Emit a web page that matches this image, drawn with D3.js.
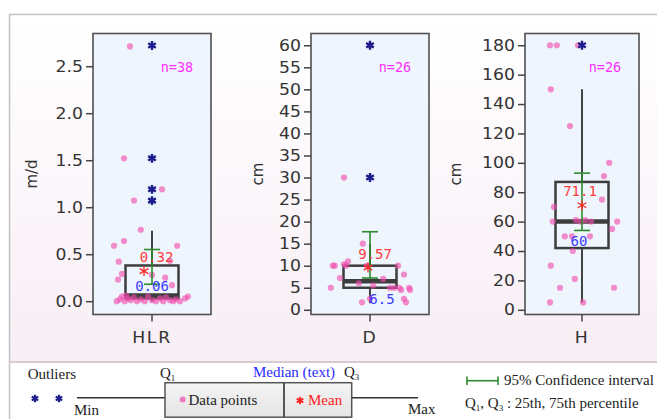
<!DOCTYPE html>
<html lang="en">
<head>
<meta charset="UTF-8">
<title>Box plots HLR, D, H</title>
<script src="https://cdn.jsdelivr.net/npm/d3@7"></script>
<style>
	body { margin: 0; background: #fff; }
	svg { display: block; }
	.tick text { font-family: "DejaVu Sans", sans-serif; fill: #333; }
	.leg { font-family: "Liberation Serif", "Times New Roman", serif; font-size: 15px; fill: #222; }
</style>
</head>
<body>
<div id="chart"></div>
<script>
// ---- data ----
var categories = ["HLR", "D", "H"];
var units = ["m/d", "cm", "cm"];
var counts = [38, 26, 26];
var q1 = [0.03, 5, 42];
var q3 = [0.38, 10, 87];
var medians = [0.06, 6.5, 60];
var means = [0.32, 9.57, 71.1];
var whiskLo = [0, 1.5, 5];
var whiskHi = [0.75, 15, 150];
var ciLo = [0.18, 7.2, 54];
var ciHi = [0.55, 17.7, 93];
var outliers = [[2.72, 1.52, 1.19, 1.07], [60, 30], [180]];

var hlrPoints = [2.71, 1.52, 1.19, 1.07, 0.76, 0.64, 0.59, 0.59, 0.42, 0.43, 0.29, 0.23, 0.25, 0.17, 0.28, 0.05, 0.06,
	0.0, 0.02, 0.05, 0.0, 0.03, 0.01, 0.04, 0.0, 0.02, 0.0, 0.05, 0.01, 0.0, 0.03, 0.0, 0.04, 0.01, 0.0, 0.02, 0.0, 0.03];
var hlrJitter = [-0.55, -0.7, 0.25, -0.45, -0.28, -0.7, -0.95, 0.63, -0.83, 0.45, -0.75, -0.85, 0.33, 0.5, 0, 0.9, -0.65,
	-0.88, -0.8, -0.75, -0.68, -0.6, -0.53, -0.45, -0.38, -0.28, -0.18, -0.1, 0, 0.1, 0.2, 0.28, 0.35, 0.45, 0.53, 0.6, 0.7, 0.83];
var dPoints = [60, 30, 15, 11, 10, 10, 10, 10, 7.2, 7, 6, 8, 5, 5, 5, 5, 4.5, 5, 4.5, 2.5, 1.7, 1.7, 2.5, 10.3, 5.5, 10];
var dJitter = [0, -0.65, -0.18, -0.55, -0.88, -0.93, -0.6, 0.7, -0.75, 0.33, -0.28, 0.85, -0.98, 0.5, 0.6, 0.73, 0.78, 0.98, 1.0, 0.85, 0.9, -0.2, 0, -0.65, 0.08, -0.08];
var hPoints = [180, 180, 180, 150, 125, 100, 91, 75, 70, 60, 61, 61, 60, 60, 55, 50, 50, 50, 40, 30, 21, 15, 15, 5, 5, 60];
var hJitter = [-0.8, -0.63, -0.1, -0.78, -0.3, 0.68, 0.55, 0.5, -0.7, -0.73, -0.15, 0.08, 0.23, 0.88, 0.75, -0.43, -0.25, 0.2, -0.23, -0.78, -0.18, -0.55, 0.8, -0.8, 0.03, -0.03];
var points = [hlrPoints, dPoints, hPoints];
var jitters = [hlrJitter, dJitter, hJitter];

var yTicks = [[0, 0.5, 1.0, 1.5, 2.0, 2.5],
	[0, 5, 10, 15, 20, 25, 30, 35, 40, 45, 50, 55, 60],
	[0, 20, 40, 60, 80, 100, 120, 140, 160, 180]];
var yFormats = [".1f", "d", "d"];
var yDomains = [[-0.1415, 2.848], [-1.07, 62.67], [-3.2, 188]];

// ---- layout ----
var W = 657, H = 419;
var panelLeft = [93, 311, 525], panelWidth = [118, 118, 114];
var plotTop = 33.5, plotBottom = 314.5;
var labelOff = [61, 53, 69];
var meanDx = [-8, -2, 0];
var meanLab = [[4.5, -13.6], [5, -13.6], [-2, -14.4]];
var medLab = [[0, -9.5], [12, 18], [-3, 19]];
var textStretch = 1.15;

var svg = d3.select("#chart").append("svg")
	.attr("width", W).attr("height", H);

var defs = svg.append("defs");
var bg = defs.append("linearGradient").attr("id", "bg").attr("x1", 0).attr("x2", 0).attr("y1", 0).attr("y2", 1);
bg.append("stop").attr("offset", "0%").attr("stop-color", "#ffffff");
bg.append("stop").attr("offset", "100%").attr("stop-color", "#f8eef5");
var lg = defs.append("linearGradient").attr("id", "lg").attr("x1", 0).attr("x2", 0).attr("y1", 0).attr("y2", 1);
lg.append("stop").attr("offset", "0%").attr("stop-color", "#f4f4f4");
lg.append("stop").attr("offset", "100%").attr("stop-color", "#e4e4e4");

// frame
svg.append("rect").attr("x", 9.5).attr("y", 14.5).attr("width", 700).attr("height", 347.5)
	.attr("fill", "url(#bg)").attr("stroke", "#c2c2c2").attr("stroke-width", 1.5);
svg.append("rect").attr("x", 9.5).attr("y", 362).attr("width", 700).attr("height", 80)
	.attr("fill", "#fff").attr("stroke", "#c2c2c2").attr("stroke-width", 1.5);
svg.append("line").attr("x1", 9).attr("x2", W).attr("y1", 362).attr("y2", 362)
	.attr("stroke", "#d4ccd2").attr("stroke-width", 2);

var star = d3.symbol().type(d3.symbolAsterisk);

categories.forEach(function (cat, i) {
	var x0 = panelLeft[i], w = panelWidth[i], cx = x0 + w / 2;
	var y = d3.scaleLinear().domain(yDomains[i]).range([plotBottom, plotTop]);
	var jx = d3.scaleLinear().domain([-1, 1]).range([cx - 40, cx + 40]);
	var g = svg.append("g");

	g.append("rect").attr("x", x0).attr("y", plotTop).attr("width", w).attr("height", plotBottom - plotTop)
		.attr("fill", "#eef5fc").attr("stroke", "#505050").attr("stroke-width", 1.6);

	// y axis
	var ax = g.append("g").attr("transform", "translate(" + x0 + ",0)")
		.call(d3.axisLeft(y).tickValues(yTicks[i]).tickFormat(d3.format(yFormats[i])).tickSize(7).tickPadding(3));
	ax.select(".domain").remove();
	ax.selectAll(".tick line").attr("stroke", "#444").attr("stroke-width", 1.5);
	ax.selectAll(".tick text").attr("font-size", 15)
		.attr("x", -10 / textStretch).attr("transform", "scale(" + textStretch + ",1)");

	// x tick + label
	g.append("line").attr("x1", cx).attr("x2", cx).attr("y1", plotBottom).attr("y2", plotBottom + 7)
		.attr("stroke", "#444").attr("stroke-width", 1.5);
	g.append("text").attr("transform", "translate(" + cx + "," + (plotBottom + 28) + ") scale(" + textStretch + ",1)")
		.attr("text-anchor", "middle").attr("font-family", "DejaVu Sans, sans-serif").attr("font-size", 15)
		.attr("letter-spacing", 1.5).attr("fill", "#333").text(cat);

	// unit label
	g.append("text").attr("transform", "translate(" + (x0 - labelOff[i]) + "," + ((plotTop + plotBottom) / 2) + ") rotate(-90)")
		.attr("text-anchor", "middle").attr("dy", "0.35em").attr("font-family", "DejaVu Sans, sans-serif")
		.attr("font-size", 15).attr("fill", "#333").text(units[i]);

	// whiskers
	g.append("line").attr("x1", cx).attr("x2", cx).attr("y1", y(whiskHi[i])).attr("y2", y(q3[i]))
		.attr("stroke", "#444").attr("stroke-width", 2);
	g.append("line").attr("x1", cx).attr("x2", cx).attr("y1", y(q1[i])).attr("y2", y(whiskLo[i]))
		.attr("stroke", "#444").attr("stroke-width", 2);

	// box
	g.append("rect").attr("x", cx - 26.5).attr("y", y(q3[i])).attr("width", 53)
		.attr("height", y(q1[i]) - y(q3[i])).attr("fill", "none")
		.attr("stroke", "#3d3d3d").attr("stroke-width", 2.5);
	g.append("line").attr("x1", cx - 26.5).attr("x2", cx + 26.5).attr("y1", y(medians[i])).attr("y2", y(medians[i]))
		.attr("stroke", "#3d3d3d").attr("stroke-width", 4.5);

	// points
	g.selectAll(".pt").data(points[i]).enter().append("circle")
		.attr("cx", function (d, k) { return jx(jitters[i][k]); })
		.attr("cy", function (d) { return y(d); })
		.attr("r", 3.1).attr("fill", "#f24aac").attr("fill-opacity", 0.62);

	// outliers
	g.selectAll(".out").data(outliers[i]).enter().append("path")
		.attr("d", star.size(55)())
		.attr("transform", function (d) { return "translate(" + cx + "," + y(d) + ")"; })
		.attr("stroke", "#1c1c8c").attr("stroke-width", 2.4).attr("fill", "#1c1c8c");

	// confidence interval
	var ci = g.append("g").attr("stroke", "#2e8b2e").attr("stroke-width", 1.6);
	ci.append("line").attr("x1", cx).attr("x2", cx).attr("y1", y(ciHi[i])).attr("y2", y(ciLo[i]));
	[ciHi[i], ciLo[i]].forEach(function (v) {
		ci.append("line").attr("x1", cx - 8).attr("x2", cx + 8).attr("y1", y(v)).attr("y2", y(v));
	});

	// mean
	g.append("path").attr("d", star.size(70)())
		.attr("transform", "translate(" + (cx + meanDx[i]) + "," + y(means[i]) + ")")
		.attr("stroke", "#ff2a2a").attr("stroke-width", 1.3).attr("fill", "none");

	var mono = "DejaVu Sans Mono, monospace";
	g.append("text").attr("x", cx + meanLab[i][0]).attr("y", y(means[i]) + meanLab[i][1]).attr("dy", "0.35em")
		.attr("text-anchor", "middle").attr("font-family", mono).attr("font-size", 14)
		.attr("fill", "#ff3b3b").text(String(means[i]));
	g.append("text").attr("x", cx + medLab[i][0]).attr("y", y(medians[i]) + medLab[i][1]).attr("dy", "0.35em")
		.attr("text-anchor", "middle").attr("font-family", mono).attr("font-size", 14)
		.attr("fill", "#3a3aff").text(String(medians[i]));
	g.append("text").attr("x", x0 + w - 34).attr("y", plotTop + 34).attr("dy", "0.35em")
		.attr("text-anchor", "middle").attr("font-family", mono).attr("font-size", 13.5)
		.attr("fill", "#ff30ff").text("n=" + counts[i]);
});

// ---- legend ----
var leg = svg.append("g");
leg.append("text").attr("class", "leg").attr("x", 27.7).attr("y", 379).text("Outliers");
[35, 59].forEach(function (x) {
	leg.append("path").attr("d", star.size(40)()).attr("transform", "translate(" + x + ",398.5)")
		.attr("stroke", "#1c1c8c").attr("stroke-width", 2.2).attr("fill", "#1c1c8c");
});
leg.append("line").attr("x1", 77).attr("x2", 165).attr("y1", 397.7).attr("y2", 397.7).attr("stroke", "#333").attr("stroke-width", 1.5);
leg.append("text").attr("class", "leg").attr("x", 74).attr("y", 415).text("Min");
leg.append("rect").attr("x", 165).attr("y", 382.7).attr("width", 186.7).attr("height", 34.5)
	.attr("fill", "url(#lg)").attr("stroke", "#555").attr("stroke-width", 1.5);
leg.append("line").attr("x1", 284).attr("x2", 284).attr("y1", 382.7).attr("y2", 417.2).attr("stroke", "#444").attr("stroke-width", 1.8);
leg.append("line").attr("x1", 351.7).attr("x2", 418).attr("y1", 397.7).attr("y2", 397.7).attr("stroke", "#333").attr("stroke-width", 1.5);
leg.append("text").attr("class", "leg").attr("x", 408).attr("y", 414).text("Max");

var qt1 = leg.append("text").attr("class", "leg").attr("x", 160).attr("y", 378);
qt1.append("tspan").text("Q");
qt1.append("tspan").attr("font-size", 9).attr("dy", 3).text("1");
leg.append("text").attr("class", "leg").attr("x", 253).attr("y", 377).style("fill", "#2a2aff").text("Median (text)");
var qt3 = leg.append("text").attr("class", "leg").attr("x", 344).attr("y", 377);
qt3.append("tspan").text("Q");
qt3.append("tspan").attr("font-size", 9).attr("dy", 3).text("3");

leg.append("circle").attr("cx", 182.7).attr("cy", 399.5).attr("r", 3).attr("fill", "#f24aac").attr("fill-opacity", 0.7);
leg.append("text").attr("class", "leg").attr("x", 188.5).attr("y", 405).text("Data points");
leg.append("path").attr("d", star.size(40)()).attr("transform", "translate(300,400.5)")
	.attr("stroke", "#ff2020").attr("stroke-width", 1.8).attr("fill", "none");
leg.append("text").attr("class", "leg").attr("x", 308).attr("y", 405).style("fill", "#ff2020").text("Mean");

var cil = leg.append("g").attr("stroke", "#2e8b2e").attr("stroke-width", 1.6);
cil.append("line").attr("x1", 467).attr("x2", 498).attr("y1", 380.7).attr("y2", 380.7);
cil.append("line").attr("x1", 467).attr("x2", 467).attr("y1", 376.5).attr("y2", 385);
cil.append("line").attr("x1", 498).attr("x2", 498).attr("y1", 376.5).attr("y2", 385);
leg.append("text").attr("class", "leg").attr("x", 504).attr("y", 384.5).text("95% Confidence interval");

var qq = leg.append("text").attr("class", "leg").attr("x", 465).attr("y", 408);
qq.append("tspan").text("Q");
qq.append("tspan").attr("font-size", 9).attr("dy", 3).text("1");
qq.append("tspan").attr("dy", -3).text(", Q");
qq.append("tspan").attr("font-size", 9).attr("dy", 3).text("3");
qq.append("tspan").attr("dy", -3).text(" : 25th, 75th percentile");
</script>
</body>
</html>
